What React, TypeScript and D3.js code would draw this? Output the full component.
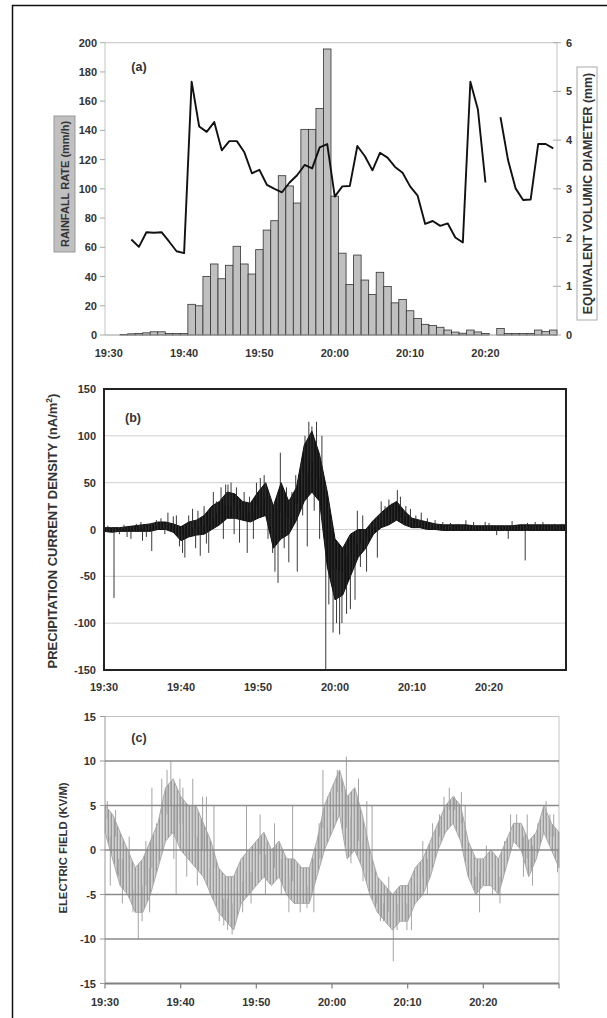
import React, { useEffect, useRef } from 'react';
import * as d3 from 'd3';

const W = 607;
const H = 1018;
const FONT = '"Liberation Sans", Arial, sans-serif';

// shared time axis labels (minutes after 19:30)
const timeTicks = [0, 10, 20, 30, 40, 50];
const timeLabels = ['19:30', '19:40', '19:50', '20:00', '20:10', '20:20'];

// (a) one bar / point per minute, 19:30 .. 20:29
const minuteIdx = d3.range(60);
const rainfall = [
  0, 0, 0.3, 0.8, 1, 1.5, 2.2, 2.2, 1, 1, 1,
  21, 20, 40, 48.6, 38.5, 47.7, 60.7, 48.6, 41.7, 58.4,
  71.8, 78.2, 109, 102, 90.3, 140.7, 140.7, 155, 195.7, 95,
  56, 34.5, 54.7, 37.6, 27.7, 42.9, 33.2, 22, 24.3, 16.6,
  11.3, 7.3, 6.5, 5.3, 3.4, 2, 1.2, 3.4, 2.1, 1,
  0, 4.5, 1, 1, 1, 1, 3.4, 2.3, 3.4,
];
const diameter: (number | null)[] = [
  null, null, null, 1.96, 1.81, 2.11, 2.1, 2.11, 1.92, 1.72, 1.68,
  5.2, 4.28, 4.17, 4.37, 3.79, 3.98, 3.98, 3.75, 3.32,
  3.39, 3.08, 3.0, 2.93, 3.13, 3.28, 3.49, 3.42, 3.85, 3.92,
  2.84, 3.05, 3.06, 3.88, 3.67, 3.38, 3.74, 3.64, 3.45, 3.33,
  3.05, 2.86, 2.28, 2.34, 2.24, 2.29, 2.0, 1.9, 5.2, 4.63,
  3.13, null, 4.47, 3.59, 3.01, 2.77, 2.78, 3.92, 3.92, 3.83,
];
const rainTicks = [0, 20, 40, 60, 80, 100, 120, 140, 160, 180, 200];
const diamTicks = [0, 1, 2, 3, 4, 5, 6];

// (b) precipitation current: per-minute envelope of the dense trace + spikes
const currentHi = [
  2, 2, 2, 3, 4, 5, 6, 8, 8, 6,
  3, 8, 10, 15, 25, 30, 40, 38, 30, 28,
  40, 50, 25, 50, 30, 45, 90, 105, 80, 40,
  -10, -20, -5, 0, 0, 10, 18, 25, 30, 20,
  12, 10, 8, 6, 5, 5, 5, 5, 4, 4,
  4, 4, 4, 4, 5, 5, 5, 5, 5, 5, 5,
];
const currentLo = [
  -2, -3, -2, -2, -2, -2, -2, 0, 0, -3,
  -12, -8, -6, -5, 0, 5, 12, 12, 10, 8,
  12, 15, -20, -10, -5, 10, 30, 40, 30, -40,
  -75, -70, -50, -30, -20, -5, 2, 5, 10, 5,
  2, 2, 0, 0, -1, -1, -1, -1, -1, -1,
  -1, -1, -1, -1, -1, -1, -1, -1, -1, -1, -1,
];
const currentSpikes = [
  { t: 0.5, v: 4 }, { t: 1.3, v: -73 }, { t: 2, v: -5 }, { t: 2.6, v: 5 },
  { t: 3, v: -8 }, { t: 3.5, v: -10 }, { t: 4.2, v: 6 }, { t: 4.8, v: 8 },
  { t: 5, v: -12 }, { t: 5.5, v: -8 }, { t: 6.2, v: -23 }, { t: 6.8, v: 10 },
  { t: 7.4, v: 12 }, { t: 7.9, v: -5 }, { t: 8.3, v: 18 }, { t: 9, v: 14 },
  { t: 9.4, v: 15 }, { t: 9.8, v: -18 }, { t: 10.2, v: -25 }, { t: 10.5, v: -30 },
  { t: 11, v: 15 }, { t: 11.5, v: 22 }, { t: 11.9, v: -20 }, { t: 12.2, v: 20 },
  { t: 12.5, v: -28 }, { t: 13, v: 25 }, { t: 13.3, v: -15 }, { t: 13.6, v: -25 },
  { t: 14.2, v: 40 }, { t: 14.6, v: 30 }, { t: 15.2, v: 45 }, { t: 15.5, v: -10 },
  { t: 15.8, v: 48 }, { t: 16.1, v: 48 }, { t: 16.5, v: 50 }, { t: 16.9, v: -5 },
  { t: 17.2, v: 45 }, { t: 17.6, v: -14 }, { t: 18.2, v: 40 }, { t: 18.6, v: -25 },
  { t: 18.9, v: 35 }, { t: 19.4, v: -10 }, { t: 19.8, v: 50 }, { t: 20.3, v: 55 },
  { t: 20.8, v: 58 }, { t: 21.3, v: -10 }, { t: 21.6, v: 35 }, { t: 21.9, v: -25 },
  { t: 22.2, v: -45 }, { t: 22.6, v: -57 }, { t: 22.9, v: 82 }, { t: 23.4, v: -20 },
  { t: 23.7, v: 45 }, { t: 24, v: -35 }, { t: 24.4, v: 40 }, { t: 24.9, v: 58 },
  { t: 25.1, v: -45 }, { t: 25.5, v: 60 }, { t: 25.8, v: 15 }, { t: 26.1, v: 100 },
  { t: 26.4, v: -18 }, { t: 26.6, v: 115 }, { t: 27, v: 110 }, { t: 27.3, v: 20 },
  { t: 27.6, v: 115 }, { t: 28.0, v: -10 }, { t: 28.3, v: 100 }, { t: 28.5, v: 30 },
  { t: 28.8, v: -150 }, { t: 29.2, v: -80 }, { t: 29.5, v: 10 }, { t: 29.75, v: -110 },
  { t: 30.0, v: -60 }, { t: 30.2, v: -100 }, { t: 30.6, v: -112 }, { t: 30.9, v: -100 },
  { t: 31.5, v: -90 }, { t: 32.0, v: -85 }, { t: 32.6, v: -75 }, { t: 32.9, v: 20 },
  { t: 33.3, v: -40 }, { t: 33.6, v: 15 }, { t: 34.1, v: -45 }, { t: 34.8, v: 5 },
  { t: 35.2, v: 10 }, { t: 35.5, v: -30 }, { t: 36.0, v: 30 }, { t: 36.5, v: 25 },
  { t: 37.0, v: 32 }, { t: 37.4, v: 28 }, { t: 38.1, v: 42 }, { t: 38.5, v: 35 },
  { t: 39.2, v: 25 }, { t: 39.8, v: 22 }, { t: 40.5, v: 15 }, { t: 41.2, v: 18 },
  { t: 42, v: 12 }, { t: 43, v: 10 }, { t: 44, v: 8 }, { t: 45, v: 7 },
  { t: 46, v: 6 }, { t: 47, v: 10 }, { t: 48, v: 8 }, { t: 49.5, v: 8 },
  { t: 50, v: 7 }, { t: 51, v: -6 }, { t: 52.5, v: -10 }, { t: 53, v: 9 },
  { t: 54.7, v: -33 }, { t: 55, v: 7 }, { t: 56, v: 8 }, { t: 57, v: 8 },
  { t: 58.5, v: 6 }, { t: 59.5, v: 6 },
];
const currentTicks = [-150, -100, -50, 0, 50, 100, 150];

// (c) electric field: per-minute envelope + spikes
const fieldHi = [
  5, 4, 2, 0, -2, -1, 1, 3, 7, 8,
  6, 5, 5, 3, 1, -2, -3, -3, -1, 0,
  1, 2, 0, 1, -1, -1, -2, -2, 1, 5,
  7, 9, 6, 7, 4, 0, -3, -4, -5, -4,
  -4, -2, -1, 1, 3, 5, 6, 5, 1, -1,
  -1, 0, -1, 1, 3, 3, 1, 2, 5, 3, 2,
];
const fieldLo = [
  2, -1, -4, -5, -7, -7, -5, -2, 1, 2,
  0, -1, -2, -3, -5, -7, -8, -9, -6, -5,
  -4, -3, -4, -3, -5, -6, -6, -6, -3, 0,
  2, 4, -1, 0, -2, -5, -7, -8, -9, -8,
  -8, -6, -5, -3, 0, 2, 3, 1, -3, -5,
  -4, -4, -5, -2, 1, 0, -3, -1, 2, 0, -2,
];
const fieldSpikes = [
  { t: 0.3, v: 5.5 }, { t: 0.7, v: -4 }, { t: 1.4, v: 4.5 }, { t: 1.8, v: -3 },
  { t: 2.3, v: -6 }, { t: 3.2, v: 1.5 }, { t: 3.7, v: -7 }, { t: 4.4, v: -10 },
  { t: 4.9, v: -8 }, { t: 5.4, v: 1 }, { t: 5.9, v: -7 }, { t: 6.2, v: 7 },
  { t: 6.8, v: 3 }, { t: 7.5, v: 8 }, { t: 8.2, v: 9 }, { t: 8.7, v: 10 },
  { t: 9.1, v: -1 }, { t: 9.4, v: -5 }, { t: 9.9, v: 8 }, { t: 10.3, v: 7 },
  { t: 10.8, v: -3 }, { t: 11.6, v: 8 }, { t: 12.2, v: -4 }, { t: 12.9, v: 6 },
  { t: 13.4, v: 6 }, { t: 13.9, v: -5 }, { t: 14.4, v: 5 }, { t: 15.1, v: -8 },
  { t: 15.7, v: -8.5 }, { t: 16.2, v: -9 }, { t: 16.8, v: -9.5 }, { t: 17.5, v: -2 },
  { t: 18.2, v: -7 }, { t: 18.7, v: 5 }, { t: 19.3, v: -6 }, { t: 20.5, v: 4 },
  { t: 21.2, v: -5 }, { t: 22.4, v: 3 }, { t: 23.3, v: -5 }, { t: 24.3, v: -7 },
  { t: 24.8, v: 5 }, { t: 25.8, v: -7 }, { t: 26.7, v: -6.5 }, { t: 27.6, v: -7 },
  { t: 28.3, v: 3 }, { t: 28.8, v: 9 }, { t: 29.4, v: 6 }, { t: 30.2, v: 7.5 },
  { t: 30.7, v: 9 }, { t: 31.3, v: 8 }, { t: 31.9, v: 10.5 }, { t: 32.5, v: -1.5 },
  { t: 33.0, v: 4 }, { t: 33.5, v: 8 }, { t: 34.1, v: -3.5 }, { t: 34.6, v: 5.5 },
  { t: 35.3, v: 5 }, { t: 35.9, v: -6 }, { t: 36.4, v: -8 }, { t: 36.8, v: -8 },
  { t: 37.5, v: -3 }, { t: 38.1, v: -12.5 }, { t: 38.6, v: -9 }, { t: 39.3, v: -5 },
  { t: 39.9, v: -9 }, { t: 40.5, v: -9 }, { t: 41.3, v: -3 }, { t: 42, v: 1 },
  { t: 42.6, v: -5 }, { t: 43.3, v: 3 }, { t: 44.2, v: 4 }, { t: 44.8, v: 6 },
  { t: 45.5, v: 7 }, { t: 46.2, v: 6 }, { t: 47.1, v: 6.5 }, { t: 47.6, v: 5 },
  { t: 48.4, v: -2 }, { t: 49.0, v: -5 }, { t: 49.5, v: -7 }, { t: 50.4, v: 0.5 },
  { t: 51.2, v: -5 }, { t: 52.2, v: -6 }, { t: 52.8, v: 1 }, { t: 53.6, v: 4 },
  { t: 54.4, v: 4 }, { t: 55.3, v: -3 }, { t: 55.8, v: 4 }, { t: 56.5, v: -4 },
  { t: 57.2, v: 3 }, { t: 58.3, v: 5.5 }, { t: 58.8, v: 4 }, { t: 59.3, v: 4 },
  { t: 59.8, v: -2.5 },
];
const fieldTicks = [-15, -10, -5, 0, 5, 10, 15];

const envMinutes = d3.range(61);

export default function App() {
  const svgRef = useRef<SVGSVGElement>(null);

  useEffect(() => {
    const svg = d3.select(svgRef.current);
    svg.selectAll('*').remove();
    svg.append('rect').attr('width', W).attr('height', H).attr('fill', '#fff');

    // hatch patterns so the dense traces look like traces, not flat bands
    const defs = svg.append('defs');
    const pc = defs.append('pattern').attr('id', 'hatchC')
      .attr('patternUnits', 'userSpaceOnUse').attr('width', 3).attr('height', 8);
    pc.append('rect').attr('width', 3).attr('height', 8).attr('fill', '#d2d2d2');
    pc.append('rect').attr('x', 0).attr('width', 1).attr('height', 8).attr('fill', '#9a9a9a');
    pc.append('rect').attr('x', 2).attr('width', 0.6).attr('height', 8).attr('fill', '#b4b4b4');
    const pb = defs.append('pattern').attr('id', 'hatchB')
      .attr('patternUnits', 'userSpaceOnUse').attr('width', 3).attr('height', 8);
    pb.append('rect').attr('width', 3).attr('height', 8).attr('fill', '#111');
    pb.append('rect').attr('x', 1.6).attr('width', 0.5).attr('height', 8).attr('fill', '#555');

    // outer frame
    svg.append('rect')
      .attr('x', 12.5).attr('y', 5.5)
      .attr('width', 620).attr('height', 1030)
      .attr('fill', 'none').attr('stroke', '#111').attr('stroke-width', 1.5);

    const label = (g: any, x: number, y: number, txt: string, anchor = 'middle', size = 11) =>
      g.append('text')
        .attr('x', x).attr('y', y)
        .attr('text-anchor', anchor)
        .attr('font-family', FONT).attr('font-weight', 'bold')
        .attr('font-size', size).attr('fill', '#333')
        .text(txt);

    const vTitle = (cx: number, cy: number, txt: string, size: number) =>
      svg.append('text')
        .attr('transform', `translate(${cx},${cy}) rotate(-90)`)
        .attr('text-anchor', 'middle').attr('dy', '0.36em')
        .attr('font-family', FONT).attr('font-weight', 'bold')
        .attr('font-size', size).attr('fill', '#333')
        .text(txt);

    // ---------------- (a) ----------------
    const aL = 105, aR = 557, aT = 42.7, aB = 335;
    const xA = d3.scaleBand<number>().domain(minuteIdx).range([aL, aR]).padding(0);
    const yRain = d3.scaleLinear().domain([0, 200]).range([aB, aT]);
    const yDiam = d3.scaleLinear().domain([0, 6]).range([aB, aT]);
    const ga = svg.append('g');

    ga.append('path')
      .attr('d', `M${aL},${aB}V${aT}H${aR}V${aB}`)
      .attr('fill', 'none').attr('stroke', '#c4c4c4').attr('stroke-width', 1);

    rainTicks.forEach(v => {
      ga.append('line').attr('x1', aL - 5).attr('x2', aL).attr('y1', yRain(v)).attr('y2', yRain(v))
        .attr('stroke', '#aaa');
      label(ga, aL - 8, yRain(v) + 4, String(v), 'end');
    });
    diamTicks.forEach(v => {
      ga.append('line').attr('x1', aR - 4).attr('x2', aR + 4).attr('y1', yDiam(v)).attr('y2', yDiam(v))
        .attr('stroke', '#aaa');
      label(ga, aR + 9, yDiam(v) + 4, String(v), 'start');
    });

    ga.selectAll('rect.bar')
      .data(minuteIdx.filter(i => rainfall[i] > 0))
      .enter().append('rect')
      .attr('class', 'bar')
      .attr('x', i => xA(i)!)
      .attr('width', xA.bandwidth())
      .attr('y', i => yRain(rainfall[i]))
      .attr('height', i => aB - yRain(rainfall[i]))
      .attr('fill', '#c0c0c0').attr('stroke', '#333').attr('stroke-width', 0.8);

    ga.append('line').attr('x1', aL).attr('x2', aR).attr('y1', aB).attr('y2', aB)
      .attr('stroke', '#999').attr('stroke-width', 1.2);

    const diamLine = d3.line<number>()
      .defined(i => diameter[i] != null)
      .x(i => xA(i)! + xA.bandwidth() / 2)
      .y(i => yDiam(diameter[i] as number));
    ga.append('path').attr('d', diamLine(minuteIdx))
      .attr('fill', 'none').attr('stroke', '#111').attr('stroke-width', 1.9).attr('stroke-linejoin', 'round');

    timeTicks.forEach((m, k) => label(ga, xA(m)! + xA.bandwidth() / 2, 357, timeLabels[k]));
    label(ga, 139, 71, '(a)', 'middle', 12.5);

    ga.append('rect').attr('x', 54).attr('y', 116).attr('width', 21).attr('height', 136)
      .attr('fill', '#c0c0c0').attr('stroke', '#999');
    vTitle(65, 184, 'RAINFALL RATE (mm/h)', 11);
    ga.append('rect').attr('x', 577).attr('y', 67).attr('width', 20).attr('height', 253)
      .attr('fill', '#fff').attr('stroke', '#aaa');
    vTitle(587.5, 193.5, 'EQUIVALENT VOLUMIC DIAMETER (mm)', 12.4);

    // ---------------- (b) ----------------
    const bL = 104, bR = 566, bT = 389, bB = 670;
    const xB = d3.scaleLinear().domain([0, 60]).range([bL, bR]);
    const yB = d3.scaleLinear().domain([-150, 150]).range([bB, bT]);
    const gb = svg.append('g');
    currentTicks.forEach(v => {
      if (v > -150 && v < 150)
        gb.append('line').attr('x1', bL).attr('x2', bR).attr('y1', yB(v)).attr('y2', yB(v))
          .attr('stroke', '#cfcfcf').attr('stroke-width', 1);
      label(gb, bL - 8, yB(v) + 4, String(v), 'end');
    });
    const bandB = d3.area<number>()
      .x(i => xB(i)).y0(i => yB(currentLo[i])).y1(i => yB(currentHi[i]));
    gb.append('path').attr('d', bandB(envMinutes))
      .attr('fill', 'url(#hatchB)').attr('stroke', '#111').attr('stroke-width', 1);
    gb.selectAll('line.spk').data(currentSpikes).enter().append('line')
      .attr('class', 'spk')
      .attr('x1', d => xB(d.t)).attr('x2', d => xB(d.t))
      .attr('y1', d => {
        const i = Math.round(d.t);
        return yB((currentHi[i] + currentLo[i]) / 2);
      })
      .attr('y2', d => yB(d.v))
      .attr('stroke', '#222').attr('stroke-width', 0.9);
    gb.append('rect').attr('x', bL).attr('y', bT).attr('width', bR - bL).attr('height', bB - bT)
      .attr('fill', 'none').attr('stroke', '#222').attr('stroke-width', 2);
    timeTicks.forEach((m, k) => label(gb, xB(m), 691, timeLabels[k]));
    label(gb, 133, 422, '(b)', 'middle', 12.5);
    const tb = gb.append('text')
      .attr('transform', `translate(52,531) rotate(-90)`)
      .attr('text-anchor', 'middle').attr('dy', '0.36em')
      .attr('font-family', FONT).attr('font-weight', 'bold')
      .attr('font-size', 13).attr('fill', '#333');
    tb.append('tspan').text('PRECIPITATION CURRENT DENSITY (nA/m');
    tb.append('tspan').attr('dy', -5).attr('font-size', 8.5).text('2');
    tb.append('tspan').attr('dy', 5).text(')');

    // ---------------- (c) ----------------
    const cL = 105, cR = 559, cT = 716.5, cB = 983.5;
    const xC = d3.scaleLinear().domain([0, 60]).range([cL, cR]);
    const yC = d3.scaleLinear().domain([-15, 15]).range([cB, cT]);
    const gc = svg.append('g');
    gc.append('path').attr('d', `M${cL},${cT}H${cR}V${cB}`)
      .attr('fill', 'none').attr('stroke', '#c4c4c4');
    fieldTicks.forEach(v => {
      gc.append('line').attr('x1', cL - 5).attr('x2', cL).attr('y1', yC(v)).attr('y2', yC(v))
        .attr('stroke', '#999');
      label(gc, cL - 9, yC(v) + 4, String(v), 'end');
    });
    gc.append('line').attr('x1', cL).attr('x2', cL).attr('y1', cT).attr('y2', cB).attr('stroke', '#999');
    const bandC = d3.area<number>()
      .x(i => xC(i)).y0(i => yC(fieldLo[i])).y1(i => yC(fieldHi[i]));
    gc.append('path').attr('d', bandC(envMinutes))
      .attr('fill', 'url(#hatchC)').attr('stroke', '#aaa').attr('stroke-width', 1);
    gc.selectAll('line.spk').data(fieldSpikes).enter().append('line')
      .attr('class', 'spk')
      .attr('x1', d => xC(d.t)).attr('x2', d => xC(d.t))
      .attr('y1', d => {
        const i = Math.round(d.t);
        return yC((fieldHi[i] + fieldLo[i]) / 2);
      })
      .attr('y2', d => yC(d.v))
      .attr('stroke', '#a4a4a4').attr('stroke-width', 1);
    // grid lines are drawn over the trace, as in the reference
    fieldTicks.forEach(v => {
      if (v > -15 && v < 15)
        gc.append('line').attr('x1', cL).attr('x2', cR).attr('y1', yC(v)).attr('y2', yC(v))
          .attr('stroke', '#8a8a8a').attr('stroke-width', 1.3);
    });
    gc.append('line').attr('x1', cL).attr('x2', cR).attr('y1', cB).attr('y2', cB)
      .attr('stroke', '#808080').attr('stroke-width', 2.2);
    d3.range(0, 61, 10).forEach(m => {
      gc.append('line').attr('x1', xC(m)).attr('x2', xC(m)).attr('y1', cB).attr('y2', cB + 5)
        .attr('stroke', '#808080').attr('stroke-width', 1.2);
    });
    timeTicks.forEach((m, k) => label(gc, xC(m), 1006, timeLabels[k]));
    label(gc, 139, 742, '(c)', 'middle', 12.5);
    vTitle(63, 848, 'ELECTRIC FIELD (KV/M)', 11.3);
  }, []);

  return (
    <svg ref={svgRef} width={W} height={H}
      style={{ position: 'absolute', left: 0, top: 0, display: 'block' }} />
  );
}
